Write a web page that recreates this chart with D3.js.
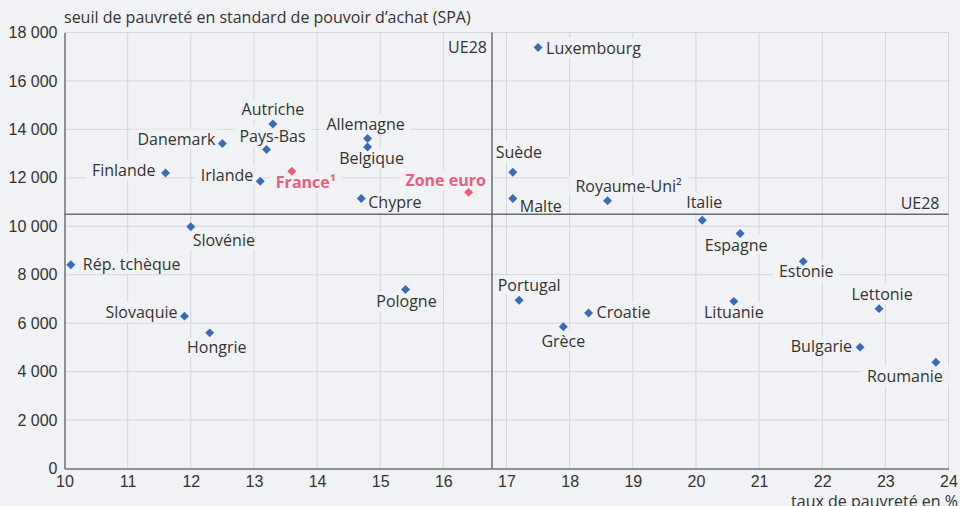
<!DOCTYPE html>
<html>
<head>
<meta charset="utf-8">
<script src="https://cdn.jsdelivr.net/npm/d3@7/dist/d3.min.js"></script>
<style>
  html, body { margin: 0; padding: 0; background: #f1f2f5; }
  svg { display: block; font-family: "Open Sans", "Noto Sans", sans-serif; }
  .tick text { font-size: 16px; fill: #333; }
  .lab { font-size: 16px; fill: #333; }
  .lab.hl { fill: #e8607a; font-weight: 700; }
</style>
</head>
<body>
<svg id="chart" width="960" height="506"></svg>
<script>
const COUNTRIES = ['Luxembourg','Autriche','Danemark','Pays-Bas','Allemagne','Belgique','Finlande',
  'Irlande','France¹','Chypre','Zone euro','Slovénie','Suède','Malte','Royaume-Uni²','Italie',
  'Espagne','Estonie','Rép. tchèque','Pologne','Slovaquie','Hongrie','Portugal','Croatie','Grèce',
  'Lituanie','Lettonie','Bulgarie','Roumanie'];
// taux de pauvreté (%)
const RATE = [17.5,13.3,12.5,13.2,14.8,14.8,11.6,13.1,13.6,14.7,16.4,12.0,17.1,17.1,18.6,20.1,
  20.7,21.7,10.1,15.4,11.9,12.3,17.2,18.3,17.9,20.6,22.9,22.6,23.8];
// seuil de pauvreté (SPA)
const THRESHOLD = [17380,14220,13420,13170,13620,13270,12200,11860,12270,11150,11400,9980,12230,
  11150,11050,10250,9700,8550,8410,7390,6290,5600,6950,6420,5850,6900,6600,5010,4390];
const HIGHLIGHT = ['France¹','Zone euro'];
const UE28_RATE = 16.77, UE28_THRESHOLD = 10500;
const X_TICKS = d3.range(10, 25, 1);
const Y_TICKS = d3.range(0, 18001, 2000);

// label placement: anchor + offset from the point (px)
const LABEL = {
  'Luxembourg': ['start', 8, 6], 'Autriche': ['middle', 0, -9], 'Danemark': ['end', -7, 2],
  'Pays-Bas': ['middle', 6, -7], 'Allemagne': ['middle', -2, -9], 'Belgique': ['middle', 4, 17],
  'Finlande': ['end', -10, 3], 'Irlande': ['end', -7, 0], 'France¹': ['middle', 14, 17],
  'Chypre': ['start', 7, 10], 'Zone euro': ['middle', -23, -6], 'Slovénie': ['middle', 33, 19],
  'Suède': ['middle', 6, -14], 'Malte': ['start', 7, 14], 'Royaume-Uni²': ['middle', 21, -9],
  'Italie': ['middle', 2, -12], 'Espagne': ['middle', -4, 17], 'Estonie': ['middle', 3, 16],
  'Rép. tchèque': ['start', 12, 5], 'Pologne': ['middle', 1, 18], 'Slovaquie': ['end', -7, 2],
  'Hongrie': ['middle', 7, 20], 'Portugal': ['middle', 10, -9], 'Croatie': ['start', 8, 5],
  'Grèce': ['middle', 0, 20], 'Lituanie': ['middle', 0, 17], 'Lettonie': ['middle', 3, -9],
  'Bulgarie': ['end', -8, 5], 'Roumanie': ['middle', -31, 20]
};

const data = COUNTRIES.map((c, i) => ({name: c, x: RATE[i], y: THRESHOLD[i], hl: HIGHLIGHT.includes(c)}));

const svg = d3.select('#chart');
const BG = '#f1f2f5';
const x = d3.scaleLinear().domain([10, 24]).range([64.5, 948.5]);
const y = d3.scaleLinear().domain([0, 18000]).range([468.5, 32.5]);
const fmt = v => d3.format(',')(v).replace(/,/g, ' ');

// grid
const grid = svg.append('g');
grid.selectAll('.gx').data(X_TICKS).join('line')
  .attr('x1', d => x(d)).attr('x2', d => x(d)).attr('y1', y(0)).attr('y2', y(18000))
  .attr('stroke', '#d3d5da').attr('stroke-width', 1);
grid.selectAll('.gy').data(Y_TICKS).join('line')
  .attr('x1', x(10)).attr('x2', x(24)).attr('y1', d => y(d)).attr('y2', d => y(d))
  .attr('stroke', '#d3d5da').attr('stroke-width', 1);

const gBox = svg.append('g');   // label backgrounds, under the reference lines

// axes
const xAxis = svg.append('g').attr('transform', `translate(0,${y(0)})`)
  .call(d3.axisBottom(x).tickValues(X_TICKS).tickSize(0).tickPadding(4));
xAxis.select('.domain').attr('stroke', '#777').attr('stroke-width', 1.5);
xAxis.selectAll('text').attr('dy', '0.9em');
const yAxis = svg.append('g').attr('transform', `translate(${x(10)},0)`)
  .call(d3.axisLeft(y).tickValues(Y_TICKS).tickFormat(fmt).tickSize(0).tickPadding(7));
yAxis.select('.domain').attr('stroke', '#777').attr('stroke-width', 1.5);

// UE28 reference lines
svg.append('line').attr('x1', x(UE28_RATE)).attr('x2', x(UE28_RATE)).attr('y1', y(0)).attr('y2', y(18000))
  .attr('stroke', '#6b6b6b').attr('stroke-width', 1.5);
svg.append('line').attr('x1', x(10)).attr('x2', x(24)).attr('y1', y(UE28_THRESHOLD)).attr('y2', y(UE28_THRESHOLD))
  .attr('stroke', '#6b6b6b').attr('stroke-width', 1.5);
svg.append('text').attr('class', 'lab').attr('x', x(UE28_RATE) - 5).attr('y', y(17400) + 6)
  .attr('text-anchor', 'end').text('UE28');
svg.append('text').attr('class', 'lab').attr('x', x(24) - 9).attr('y', y(UE28_THRESHOLD) - 5)
  .attr('text-anchor', 'end').text('UE28');

// axis titles
svg.append('text').attr('class', 'lab').attr('x', 64).attr('y', 23)
  .text('seuil de pauvreté en standard de pouvoir d’achat (SPA)');
svg.append('text').attr('class', 'lab').attr('x', 958).attr('y', 507).attr('text-anchor', 'end')
  .text('taux de pauvreté en %');

// labels with background boxes masking the grid
const gLab = svg.append('g');
data.forEach(d => {
  const [anchor, dx, dy] = LABEL[d.name];
  const t = gLab.append('text').attr('class', d.hl ? 'lab hl' : 'lab')
    .attr('x', x(d.x) + dx).attr('y', y(d.y) + dy).attr('text-anchor', anchor).text(d.name);
  const b = t.node().getBBox();
  gBox.append('rect').attr('x', b.x - 6).attr('y', b.y + 1).attr('width', b.width + 12)
    .attr('height', b.height - 2).attr('fill', BG);
});

// points
svg.append('g').selectAll('path').data(data).join('path')
  .attr('d', d3.symbol(d3.symbolSquare, 40))
  .attr('transform', d => `translate(${x(d.x)},${y(d.y)}) rotate(45)`)
  .attr('fill', d => d.hl ? '#e8607a' : '#3a6bb8');
</script>
</body>
</html>
